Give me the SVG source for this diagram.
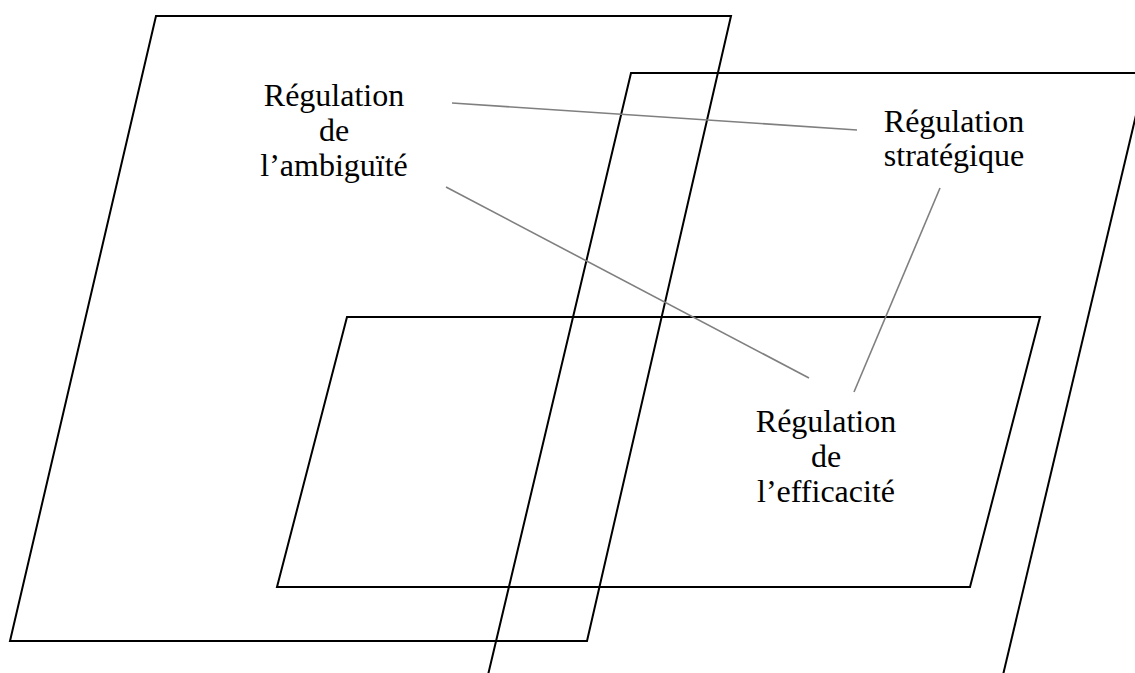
<svg xmlns="http://www.w3.org/2000/svg" width="1135" height="673" viewBox="0 0 1135 673">
  <style>
    .frame { fill: none; stroke: #000; stroke-width: 2; stroke-linejoin: miter; }
    .link { stroke: #7f7f7f; stroke-width: 1.6; fill: none; }
    .label { font-family: "Liberation Serif", "Times New Roman", serif; font-size: 32px; fill: #000; text-anchor: middle; }
  </style>
  <rect width="1135" height="673" fill="#fff"/>

  <!-- planes -->
  <g id="plane-left">
    <polygon class="frame" points="156,16 731,16 587,641 10,641"/>
  </g>
  <g id="plane-right">
    <polyline class="frame" points="488,675 631,73 1140,73"/>
    <line class="frame" x1="1146" y1="73" x2="1003" y2="675"/>
  </g>
  <g id="plane-middle">
    <polygon class="frame" points="347,317 1040,317 970,587 277,587"/>
  </g>

  <!-- connectors -->
  <g id="connectors">
    <line class="link" x1="452" y1="103" x2="857" y2="130"/>
    <line class="link" x1="446" y1="187" x2="809" y2="378"/>
    <line class="link" x1="940" y1="188" x2="854" y2="392"/>
  </g>

  <!-- labels -->
  <g id="node-ambiguite">
    <text class="label" x="334" y="106">Régulation</text>
    <text class="label" x="334" y="141">de</text>
    <text class="label" x="334" y="176">l’ambiguïté</text>
  </g>
  <g id="node-strategique">
    <text class="label" x="954" y="132">Régulation</text>
    <text class="label" x="954" y="166">stratégique</text>
  </g>
  <g id="node-efficacite">
    <text class="label" x="826" y="432">Régulation</text>
    <text class="label" x="826" y="467">de</text>
    <text class="label" x="826" y="502">l’efficacité</text>
  </g>
</svg>
